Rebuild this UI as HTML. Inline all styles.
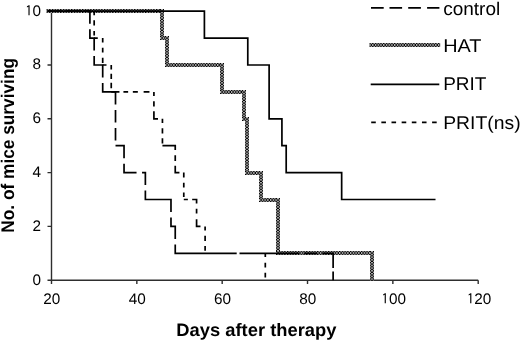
<!DOCTYPE html>
<html><head><meta charset="utf-8"><title>Survival</title>
<style>html,body{margin:0;padding:0;background:#fff;}body{width:520px;height:341px;overflow:hidden;}svg{display:block;}</style>
</head><body>
<svg width="520" height="341" viewBox="0 0 520 341">
<defs><pattern id="h0" patternUnits="userSpaceOnUse" x="46.4" y="9" width="2.74" height="4"><rect width="2.74" height="4" fill="#b4b4b4"/><rect width="1.37" height="1" fill="#000"/><rect y="3" width="1.37" height="1" fill="#000"/><rect x="1.37" y="1" width="1.37" height="2" fill="#000"/></pattern><pattern id="h1" patternUnits="userSpaceOnUse" x="160" y="9" width="4" height="2.74"><rect width="4" height="2.74" fill="#b4b4b4"/><rect width="1" height="1.37" fill="#000"/><rect x="3" width="1" height="1.37" fill="#000"/><rect x="1" y="1.37" width="2" height="1.37" fill="#000"/></pattern><pattern id="h2" patternUnits="userSpaceOnUse" x="160" y="36" width="2.74" height="4"><rect width="2.74" height="4" fill="#b4b4b4"/><rect width="1.37" height="1" fill="#000"/><rect y="3" width="1.37" height="1" fill="#000"/><rect x="1.37" y="1" width="1.37" height="2" fill="#000"/></pattern><pattern id="h3" patternUnits="userSpaceOnUse" x="165" y="36" width="4" height="2.74"><rect width="4" height="2.74" fill="#b4b4b4"/><rect width="1" height="1.37" fill="#000"/><rect x="3" width="1" height="1.37" fill="#000"/><rect x="1" y="1.37" width="2" height="1.37" fill="#000"/></pattern><pattern id="h4" patternUnits="userSpaceOnUse" x="165" y="63" width="2.74" height="4"><rect width="2.74" height="4" fill="#b4b4b4"/><rect width="1.37" height="1" fill="#000"/><rect y="3" width="1.37" height="1" fill="#000"/><rect x="1.37" y="1" width="1.37" height="2" fill="#000"/></pattern><pattern id="h5" patternUnits="userSpaceOnUse" x="220" y="63" width="4" height="2.74"><rect width="4" height="2.74" fill="#b4b4b4"/><rect width="1" height="1.37" fill="#000"/><rect x="3" width="1" height="1.37" fill="#000"/><rect x="1" y="1.37" width="2" height="1.37" fill="#000"/></pattern><pattern id="h6" patternUnits="userSpaceOnUse" x="220" y="90" width="2.74" height="4"><rect width="2.74" height="4" fill="#b4b4b4"/><rect width="1.37" height="1" fill="#000"/><rect y="3" width="1.37" height="1" fill="#000"/><rect x="1.37" y="1" width="1.37" height="2" fill="#000"/></pattern><pattern id="h7" patternUnits="userSpaceOnUse" x="242" y="90" width="4" height="2.74"><rect width="4" height="2.74" fill="#b4b4b4"/><rect width="1" height="1.37" fill="#000"/><rect x="3" width="1" height="1.37" fill="#000"/><rect x="1" y="1.37" width="2" height="1.37" fill="#000"/></pattern><pattern id="h8" patternUnits="userSpaceOnUse" x="242" y="117" width="2.74" height="4"><rect width="2.74" height="4" fill="#b4b4b4"/><rect width="1.37" height="1" fill="#000"/><rect y="3" width="1.37" height="1" fill="#000"/><rect x="1.37" y="1" width="1.37" height="2" fill="#000"/></pattern><pattern id="h9" patternUnits="userSpaceOnUse" x="245" y="117" width="4" height="2.74"><rect width="4" height="2.74" fill="#b4b4b4"/><rect width="1" height="1.37" fill="#000"/><rect x="3" width="1" height="1.37" fill="#000"/><rect x="1" y="1.37" width="2" height="1.37" fill="#000"/></pattern><pattern id="h10" patternUnits="userSpaceOnUse" x="245" y="171" width="2.74" height="4"><rect width="2.74" height="4" fill="#b4b4b4"/><rect width="1.37" height="1" fill="#000"/><rect y="3" width="1.37" height="1" fill="#000"/><rect x="1.37" y="1" width="1.37" height="2" fill="#000"/></pattern><pattern id="h11" patternUnits="userSpaceOnUse" x="259" y="171" width="4" height="2.74"><rect width="4" height="2.74" fill="#b4b4b4"/><rect width="1" height="1.37" fill="#000"/><rect x="3" width="1" height="1.37" fill="#000"/><rect x="1" y="1.37" width="2" height="1.37" fill="#000"/></pattern><pattern id="h12" patternUnits="userSpaceOnUse" x="259" y="198" width="2.74" height="4"><rect width="2.74" height="4" fill="#b4b4b4"/><rect width="1.37" height="1" fill="#000"/><rect y="3" width="1.37" height="1" fill="#000"/><rect x="1.37" y="1" width="1.37" height="2" fill="#000"/></pattern><pattern id="h13" patternUnits="userSpaceOnUse" x="276" y="198" width="4" height="2.74"><rect width="4" height="2.74" fill="#b4b4b4"/><rect width="1" height="1.37" fill="#000"/><rect x="3" width="1" height="1.37" fill="#000"/><rect x="1" y="1.37" width="2" height="1.37" fill="#000"/></pattern><pattern id="h14" patternUnits="userSpaceOnUse" x="276" y="251" width="2.74" height="4"><rect width="2.74" height="4" fill="#b4b4b4"/><rect width="1.37" height="1" fill="#000"/><rect y="3" width="1.37" height="1" fill="#000"/><rect x="1.37" y="1" width="1.37" height="2" fill="#000"/></pattern><pattern id="h15" patternUnits="userSpaceOnUse" x="370" y="251" width="4" height="2.74"><rect width="4" height="2.74" fill="#b4b4b4"/><rect width="1" height="1.37" fill="#000"/><rect x="3" width="1" height="1.37" fill="#000"/><rect x="1" y="1.37" width="2" height="1.37" fill="#000"/></pattern><pattern id="lh0" patternUnits="userSpaceOnUse" x="369.4" y="43" width="2.74" height="4"><rect width="2.74" height="4" fill="#b4b4b4"/><rect width="1.37" height="1" fill="#000"/><rect y="3" width="1.37" height="1" fill="#000"/><rect x="1.37" y="1" width="1.37" height="2" fill="#000"/></pattern></defs>
<path d="M51.5 11.2 V280.2 M47.5 280.2 H478.2 M47.5 280.2 H51.5 M47.5 226.4 H51.5 M47.5 172.6 H51.5 M47.5 118.8 H51.5 M47.5 65 H51.5 M47.5 11.2 H51.5 M51.5 280.2 V283.9 M136.84 280.2 V283.9 M222.18 280.2 V283.9 M307.52 280.2 V283.9 M392.86 280.2 V283.9 M478.2 280.2 V283.9" stroke="#2e2e2e" stroke-width="1.4" fill="none"/>
<g><rect x="46.4" y="9" width="117.6" height="4" fill="url(#h0)"/><rect x="160" y="9" width="4" height="31" fill="url(#h1)"/><rect x="160" y="36" width="9" height="4" fill="url(#h2)"/><rect x="165" y="36" width="4" height="31" fill="url(#h3)"/><rect x="165" y="63" width="59" height="4" fill="url(#h4)"/><rect x="220" y="63" width="4" height="31" fill="url(#h5)"/><rect x="220" y="90" width="26" height="4" fill="url(#h6)"/><rect x="242" y="90" width="4" height="31" fill="url(#h7)"/><rect x="242" y="117" width="7" height="4" fill="url(#h8)"/><rect x="245" y="117" width="4" height="58" fill="url(#h9)"/><rect x="245" y="171" width="18" height="4" fill="url(#h10)"/><rect x="259" y="171" width="4" height="31" fill="url(#h11)"/><rect x="259" y="198" width="21" height="4" fill="url(#h12)"/><rect x="276" y="198" width="4" height="57" fill="url(#h13)"/><rect x="276" y="251" width="98" height="4" fill="url(#h14)"/><rect x="370" y="251" width="4" height="29.5" fill="url(#h15)"/><rect x="369.4" y="43" width="70.8" height="4" fill="url(#lh0)"/></g>
<path d="M47.5 11.2L204.4 11.2L204.4 38.1L247.78 38.1L247.78 65L269.12 65L269.12 118.8L281.92 118.8L281.92 145.7L286.19 145.7L286.19 172.6L341.66 172.6L341.66 199.5L435.53 199.5" stroke="#000" stroke-width="1.7" fill="none" stroke-linejoin="miter" stroke-linecap="butt"/>
<path d="M47.5 11.2L52.2 11.2M57.2 11.2L61.9 11.2M66.9 11.2L71.6 11.2M76.6 11.2L81.3 11.2M86.3 11.2L91 11.2M94.17 11.2L94.17 15.2M94.17 20.3L94.17 25.6M94.17 30.9L94.17 35.5M94.17 38.1L97.77 38.1M102.7 38.1L102.7 42.5M102.7 47.8L102.7 52.5M102.7 57.7L102.7 62.9M102.7 65L106.5 65M111.24 65L111.24 69.5M111.24 73.8L111.24 79M111.24 82.8L111.24 88.2M111.24 91.9L119.44 91.9M123.44 91.9L128.14 91.9M132.84 91.9L137.84 91.9M143.64 91.9L149.44 91.9M153.91 91.9L153.91 96M153.91 101.2L153.91 106.5M153.91 111.2L153.91 118.8L158.01 118.8M162.44 118.8L162.44 122.9M162.44 128.2L162.44 133.5M162.44 138.2L162.44 143.4M162.44 145.7L175.24 145.7L175.24 149.9M175.24 155.2L175.24 161M175.24 165.8L175.24 172.6L179.44 172.6M183.78 172.6L183.78 177.5M183.78 182.8L183.78 187.5M183.78 192.5L183.78 197M183.78 199.5L187.88 199.5M192.18 199.5L196.58 199.5L196.58 203.4M196.58 208.7L196.58 213.4M196.58 219.2L196.58 226.4L200.48 226.4M205.11 226.4L205.11 230.4M205.11 235.7L205.11 241M205.11 246.1L205.11 250.7M265.3 253.3L265.3 257M265.3 262.8L265.3 267.5M265.3 272.8L265.3 277.6" stroke="#000" stroke-width="1.7" fill="none" stroke-linejoin="miter" stroke-linecap="butt"/>
<path d="M47.5 11.2L60 11.2M65.5 11.2L78 11.2M83.5 11.2L89.9 11.2L89.9 23.7M89.9 29.2L89.9 38.1L94.17 38.1L94.17 50.6M94.17 56.1L94.17 65L102.7 65L102.7 77.5M102.7 83L102.7 91.9L115.51 91.9L115.51 104.4M115.51 109.9L115.51 122.4M115.51 127.9L115.51 140.4M115.51 145.7L124.04 145.7L124.04 158.2M124.04 163.7L124.04 172.6L136.54 172.6M142.04 172.6L145.37 172.6L145.37 185.1M145.37 190.6L145.37 199.5L170.98 199.5L170.98 212M170.98 217.5L170.98 226.4L175.24 226.4L175.24 238.9M175.24 244.4L175.24 253.3L236.7 253.3M239.5 253.3L299.3 253.3M304.1 253.3L317.6 253.3M322.5 253.3L333.12 253.3L333.12 267.9M333.12 271.5L333.12 280.2" stroke="#000" stroke-width="1.7" fill="none" stroke-linejoin="miter" stroke-linecap="butt"/>
<path d="M371 7.9H383.7 M389.5 7.9H402.1 M408.2 7.9H420.9 M427.1 7.9H439.4 M370.7 84.4H439.3 M371.2 122.4H375.8 M381.35 122.4H385.95 M391.5 122.4H396.1 M401.65 122.4H406.25 M411.8 122.4H416.4 M421.95 122.4H426.55 M432.1 122.4H436.7" stroke="#000" stroke-width="1.7" fill="none"/>
<g font-family="'Liberation Sans', Arial, sans-serif" fill="#000" text-rendering="geometricPrecision"><text y="284.5" font-size="15.3"><tspan x="32.59">0</tspan></text><text y="230.7" font-size="15.3"><tspan x="32.59">2</tspan></text><text y="176.9" font-size="15.3"><tspan x="32.59">4</tspan></text><text y="123.1" font-size="15.3"><tspan x="32.59">6</tspan></text><text y="69.3" font-size="15.3"><tspan x="32.59">8</tspan></text><text y="15.5" font-size="15.3"><tspan x="25.26" font-family="IPAGothic, 'Liberation Sans', sans-serif" font-size="14.3">1</tspan><tspan x="32.59">0</tspan></text><text y="303.8" font-size="15.3"><tspan x="43.29">2</tspan><tspan x="51.8">0</tspan></text><text y="303.8" font-size="15.3"><tspan x="128.63">4</tspan><tspan x="137.14">0</tspan></text><text y="303.8" font-size="15.3"><tspan x="213.97">6</tspan><tspan x="222.48">0</tspan></text><text y="303.8" font-size="15.3"><tspan x="299.31">8</tspan><tspan x="307.82">0</tspan></text><text y="303.8" font-size="15.3"><tspan x="381.57" font-family="IPAGothic, 'Liberation Sans', sans-serif" font-size="14.3">1</tspan><tspan x="388.91">0</tspan><tspan x="397.41">0</tspan></text><text y="303.8" font-size="15.3"><tspan x="466.91" font-family="IPAGothic, 'Liberation Sans', sans-serif" font-size="14.3">1</tspan><tspan x="474.25">2</tspan><tspan x="482.75">0</tspan></text><text transform="translate(256.4 335.6) scale(1.08 1.06)" font-size="17" text-anchor="middle" font-weight="bold">Days after therapy</text><text transform="translate(13.8 145.35) scale(1.06 1) rotate(-90)" font-size="17.3" text-anchor="middle" font-weight="bold">No. of mice surviving</text><text transform="translate(443.2 14.5) scale(1.08 1.05)" font-size="17.6" text-anchor="start" font-weight="normal">control</text><text transform="translate(443.2 51.8) scale(1.13 1.05)" font-size="17.6" text-anchor="start" font-weight="normal">HAT</text><text transform="translate(443.2 90.2) scale(1.08 1.05)" font-size="17.6" text-anchor="start" font-weight="normal">PRIT</text><text transform="translate(443.2 128.6) scale(1.1 1.05)" font-size="17.6" text-anchor="start" font-weight="normal">PRIT(ns)</text></g>
</svg>
</body></html>
